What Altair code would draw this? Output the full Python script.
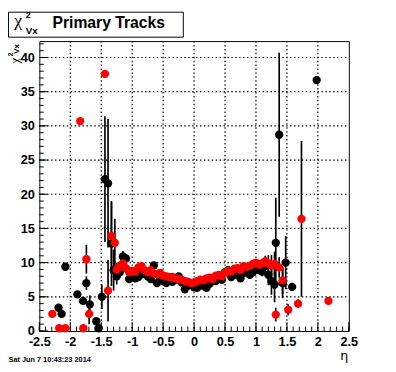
import altair as alt
import pandas as pd

# ---------------- data ----------------
black_eta = [-2.19, -2.14, -2.08, -1.885, -1.795, -1.74, -1.685, -1.58, -1.54, -1.49,
             -1.44, -1.39, -1.335, -1.30,
             -1.25, -1.20, -1.15, -1.10, -1.05, -1.00, -0.95, -0.90, -0.85, -0.80,
             -0.75, -0.70, -0.65, -0.60, -0.55, -0.50, -0.45, -0.40, -0.35, -0.30,
             -0.25, -0.20, -0.15, -0.10, -0.05, 0.00, 0.05, 0.10, 0.15, 0.20,
             0.25, 0.30, 0.35, 0.40, 0.45, 0.50, 0.55, 0.60, 0.65, 0.70,
             0.75, 0.80, 0.85, 0.90, 0.95, 1.00, 1.05, 1.10, 1.15, 1.20, 1.25,
             1.30, 1.32, 1.375, 1.43, 1.48, 1.585, 1.98]
black_chi2 = [3.4, 2.5, 9.4, 5.35, 4.4, 7.0, 3.9, 1.43, 0.4, 5.0,
              22.2, 21.6, 12.8, 8.9,
              8.0, 8.6, 10.9, 10.6, 7.6, 7.9, 7.7, 7.9, 8.3, 8.8,
              8.0, 7.6, 9.6, 7.0, 7.6, 7.3, 7.0, 7.4, 7.2, 7.5,
              8.0, 7.1, 6.1, 6.6, 6.9, 6.4, 6.3, 6.9, 6.6, 6.3,
              6.9, 7.3, 7.3, 7.6, 7.5, 8.6, 8.9, 7.9, 8.2, 8.4,
              7.7, 8.5, 8.8, 8.2, 8.6, 9.0, 8.9, 8.7, 9.5, 8.2, 7.3,
              6.8, 12.9, 28.7, 7.0, 10.0, 6.45, 36.7]
black_err = [0.4, 0.4, 0.5, 0.5, 0.5, 1.0, 1.3, 0.4, 0.3, 1.8,
             9.2, 9.4, 6.2, 3.0,
             1.2, 0.8, 0.8, 0.6, 0.5, 0.4, 0.4, 0.4, 0.4, 0.4,
             0.4, 0.4, 0.4, 0.4, 0.4, 0.4, 0.4, 0.4, 0.4, 0.4,
             0.4, 0.4, 0.4, 0.4, 0.4, 0.4, 0.4, 0.4, 0.4, 0.4,
             0.4, 0.4, 0.4, 0.4, 0.4, 0.4, 0.4, 0.4, 0.4, 0.4,
             0.4, 0.4, 0.4, 0.4, 0.5, 0.5, 0.6, 0.7, 0.8, 1.5, 2.0,
             2.6, 6.6, 12.0, 2.2, 3.9, 0.6, 0.5]

red_eta = [-2.29, -2.18, -2.08, -1.84, -1.79, -1.74, -1.695, -1.44, -1.39, -1.335, -1.28,
           -1.25, -1.20, -1.15, -1.10, -1.05, -1.00, -0.95, -0.90, -0.85, -0.80,
           -0.75, -0.70, -0.65, -0.60, -0.55, -0.50, -0.45, -0.40, -0.35, -0.30,
           -0.25, -0.20, -0.15, -0.10, -0.05, 0.00, 0.05, 0.10, 0.15, 0.20,
           0.25, 0.30, 0.35, 0.40, 0.45, 0.50, 0.55, 0.60, 0.65, 0.70,
           0.75, 0.80, 0.85, 0.90, 0.95, 1.00, 1.05, 1.10, 1.15, 1.20, 1.25,
           1.30, 1.32, 1.375, 1.43, 1.52, 1.68, 1.735, 2.17]
red_chi2 = [2.5, 0.4, 0.4, 30.7, 0.4, 10.5, 2.5, 37.6, 5.9, 13.9, 12.9,
            9.0, 9.4, 9.9, 9.2, 8.6, 8.8, 8.7, 9.3, 9.5, 8.9,
            8.6, 8.9, 8.4, 8.3, 8.5, 8.1, 8.0, 7.9, 7.9, 7.7,
            7.6, 7.5, 7.3, 7.2, 7.0, 7.1, 7.3, 7.5, 7.4, 7.7,
            7.8, 7.6, 8.1, 8.2, 8.0, 8.5, 8.8, 8.7, 9.1, 9.2,
            8.9, 9.5, 9.4, 9.5, 9.8, 10.0, 9.7, 9.9, 10.2, 9.9, 9.6,
            9.8, 2.4, 9.3, 7.4, 3.1, 4.0, 16.4, 4.4]
red_err = [0.4, 0.3, 0.3, 0.5, 0.3, 2.1, 1.5, 0.5, 4.5, 5.0, 3.5,
           1.0, 0.8, 0.6, 0.5, 0.4, 0.4, 0.4, 0.4, 0.4, 0.4,
           0.4, 0.4, 0.4, 0.4, 0.4, 0.4, 0.4, 0.4, 0.4, 0.4,
           0.4, 0.4, 0.4, 0.4, 0.4, 0.4, 0.4, 0.4, 0.4, 0.4,
           0.4, 0.4, 0.4, 0.4, 0.4, 0.4, 0.4, 0.4, 0.4, 0.4,
           0.4, 0.4, 0.4, 0.4, 0.5, 0.5, 0.6, 0.6, 0.8, 1.2, 1.5,
           1.8, 1.0, 1.5, 2.0, 0.8, 0.6, 11.4, 0.4]

x_major = [-2.5, -2.0, -1.5, -1.0, -0.5, 0.0, 0.5, 1.0, 1.5, 2.0, 2.5]
y_major = [0, 5, 10, 15, 20, 25, 30, 35, 40]
x_grid = [-2.0, -1.5, -1.0, -0.5, 0.0, 0.5, 1.0, 1.5, 2.0]
y_grid = [5, 10, 15, 20, 25, 30, 35, 40]
x_minor = [round(-2.5 + 0.1 * i, 1) for i in range(51)]
y_minor = list(range(0, 43))

title_text = "Primary Tracks"
date_text = "Sat Jun  7 10:43:23 2014"
x_title = "η"

# ---------------- chart ----------------
W, H = 316, 296
FONT = "Liberation Sans"

black = pd.DataFrame({"eta": black_eta, "chi2": black_chi2, "err": black_err})
red = pd.DataFrame({"eta": red_eta, "chi2": red_chi2, "err": red_err})
one = pd.DataFrame({"a": [0]})

xs = alt.Scale(domain=[-2.5, 2.5], nice=False, zero=False)
ys = alt.Scale(domain=[0, 42.4], nice=False, zero=False)

xaxis = alt.Axis(values=x_major, title=None, labelExpr="toString(datum.value)",
                 domain=False, ticks=False, grid=False,
                 labelFont=FONT, labelFontWeight="bold", labelFontSize=13,
                 labelColor="black", labelPadding=5, labelFlush=False,
                 labelOverlap=False)
yaxis = alt.Axis(values=y_major, title=None, labelExpr="toString(datum.value)",
                 domain=False, ticks=False, grid=False,
                 labelFont=FONT, labelFontWeight="bold", labelFontSize=13,
                 labelColor="black", labelPadding=5, labelFlush=False,
                 labelOverlap=False)

GRID_DASH = [1.5, 2.5]


def grid_x(vals):
    return alt.Chart(pd.DataFrame({"v": vals})).mark_rule(
        color="black", strokeWidth=1.2, strokeDash=GRID_DASH).encode(
        x=alt.X("v:Q", scale=xs, axis=xaxis), y=alt.value(0), y2=alt.value(H))


def grid_y(vals):
    return alt.Chart(pd.DataFrame({"v": vals})).mark_rule(
        color="black", strokeWidth=1.2, strokeDash=GRID_DASH).encode(
        y=alt.Y("v:Q", scale=ys, axis=yaxis), x=alt.value(0), x2=alt.value(W))


def errbars(df):
    return alt.Chart(df).transform_calculate(
        lo="datum.chi2 - datum.err", hi="datum.chi2 + datum.err"
    ).mark_rule(color="black", strokeWidth=1.7).encode(
        x=alt.X("eta:Q", scale=xs, axis=xaxis),
        y=alt.Y("lo:Q", scale=ys, axis=yaxis),
        y2="hi:Q",
    )


def points(df, color):
    return alt.Chart(df).mark_circle(size=72, color=color, opacity=1).encode(
        x=alt.X("eta:Q", scale=xs, axis=xaxis),
        y=alt.Y("chi2:Q", scale=ys, axis=yaxis),
    )


def yticks(vals, length):
    return alt.Chart(pd.DataFrame({"v": vals})).mark_rule(color="black", strokeWidth=1).encode(
        y=alt.Y("v:Q", scale=ys, axis=yaxis), x=alt.value(0), x2=alt.value(length))


def xticks(vals, length):
    return alt.Chart(pd.DataFrame({"v": vals})).mark_rule(color="black", strokeWidth=1).encode(
        x=alt.X("v:Q", scale=xs, axis=xaxis), y=alt.value(H), y2=alt.value(H - length))


def txt(text, x, y, size, font=FONT, weight="normal", angle=0, align="left", baseline="alphabetic"):
    return alt.Chart(one).mark_text(text=text, font=font, fontSize=size, fontWeight=weight,
                                    angle=angle, align=align, baseline=baseline,
                                    color="black").encode(x=alt.value(x), y=alt.value(y))


box = alt.Chart(one).mark_rect(fill="white", stroke="black", strokeWidth=1).encode(
    x=alt.value(-31.5), x2=alt.value(147), y=alt.value(-29.5), y2=alt.value(-4))

layers = [
    grid_x(x_grid), grid_y(y_grid),
    yticks(y_minor, 4.5), yticks(y_major, 9),
    xticks(x_minor, 4.5), xticks(x_major, 9),
    errbars(black), errbars(red),
    points(black, "#000000"), points(red, "#ff0000"),
    box,
    txt("χ", -25.5, -15.5, 18, font="Liberation Serif"),
    txt("2", -14, -24, 9, weight="bold"),
    txt("Vx", -14, -7.5, 10, weight="bold"),
    txt(title_text, 13.5, -13, 16, weight="bold"),
    # rotated y-axis title
    txt("χ", -25, 23, 13, font="Liberation Serif", angle=270, baseline="middle"),
    txt("2", -28.5, 15.5, 7, weight="bold", angle=270, baseline="middle"),
    txt("Vx", -22.5, 13, 8, weight="bold", angle=270, baseline="middle"),
    txt(x_title, 315.5, 326, 13, font="DejaVu Sans", align="right"),
    txt(date_text, -31.5, 328, 7.5, weight="bold"),
]

chart = alt.layer(*layers).properties(
    width=W, height=H,
    autosize=alt.AutoSizeParams(type="none"),
    padding={"left": 32, "top": 30, "right": 40, "bottom": 34},
    background="white",
).configure_view(stroke="black", strokeWidth=1)

chart.save("out.html", embed_options={"renderer": "svg", "actions": False})
